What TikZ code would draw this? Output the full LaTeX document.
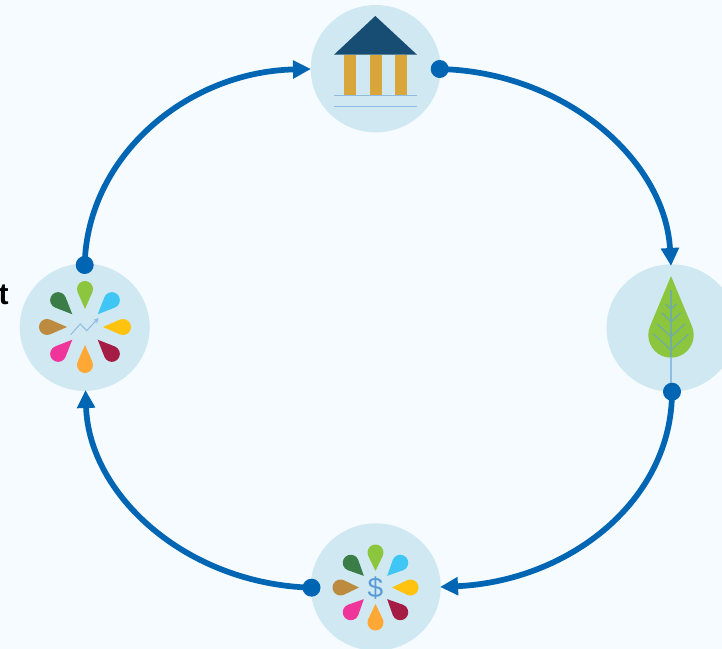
\documentclass[tikz,border=0pt]{standalone}
\usepackage{fontspec}
\setmainfont{Liberation Sans}
\usetikzlibrary{arrows.meta,shapes.geometric}
\definecolor{bgc}{HTML}{F5FBFF}
\definecolor{disc}{HTML}{D0E8F2}
\definecolor{link}{HTML}{0066B3}
\definecolor{roofc}{HTML}{174D73}
\definecolor{pillar}{HTML}{D9A63B}
\definecolor{thin}{HTML}{8FBCE4}
\definecolor{veinc}{HTML}{72AD9E}
\definecolor{dollar}{HTML}{5B9BD5}
\definecolor{pgreen}{HTML}{8CC63F}
\definecolor{pblue}{HTML}{3FC6F5}
\definecolor{pyellow}{HTML}{FFC20E}
\definecolor{pcrimson}{HTML}{A51C45}
\definecolor{porange}{HTML}{FFA836}
\definecolor{ppink}{HTML}{F0359A}
\definecolor{pbrown}{HTML}{BC8B3F}
\definecolor{pdark}{HTML}{3A7D47}
% drop: centre x, centre y, angle, tip distance, head distance, colour
\newcommand\dropshape[6]{%
  \begin{scope}[shift={(#1,#2)},rotate=-#3]
    \fill[#6] (#4,0) -- ({#5+8*cos(113.6)},{8*sin(113.6)})
      arc[start angle=113.6,end angle=-113.6,radius=8] -- cycle;
  \end{scope}}
\newcommand\flower[4]{%
  \dropshape{#1}{#2}{0}{#3}{#4}{pyellow}
  \dropshape{#1}{#2}{45}{#3}{#4}{pcrimson}
  \dropshape{#1}{#2}{90}{#3}{#4}{porange}
  \dropshape{#1}{#2}{135}{#3}{#4}{ppink}
  \dropshape{#1}{#2}{180}{#3}{#4}{pbrown}
  \dropshape{#1}{#2}{225}{#3}{#4}{pdark}
  \dropshape{#1}{#2}{270}{#3}{#4}{pgreen}
  \dropshape{#1}{#2}{315}{#3}{#4}{pblue}}
\tikzset{
  discnode/.style={ellipse,fill=disc,minimum width=97.5pt,minimum height=95.5pt,inner sep=0pt},
  dotnode/.style={circle,fill=link,minimum size=13.5pt,inner sep=0pt},
  linkline/.style={draw=link,line width=4.3pt,-{Triangle[length=13.5pt,width=13pt]}},
  thinline/.style={draw=thin,line width=0.75pt},
  veinline/.style={draw=veinc,line width=1pt}
}
\begin{document}
\begin{tikzpicture}[x=0.75pt,y=-0.75pt]
\useasboundingbox (0,0) rectangle (722,649);
\clip (0,0) rectangle (722,649);
\fill[bgc] (0,0) rectangle (722,649);
\node[discnode] (bank) at (375.7,68.7) {};
\node[discnode] (goals) at (84.7,327.2) {};
\node[discnode] (leaf) at (671.5,328) {};
\node[discnode] (money) at (375.7,587) {};
\node[anchor=base east,font=\bfseries\fontsize{22.5pt}{24pt}\selectfont,inner sep=0pt] (cut) at (9,305) {t};
% bank icon
\fill[roofc] (375.3,16) -- (417,54.7) -- (334,54.7) -- cycle;
\fill[pillar] (344,54.7) rectangle (356,96);
\fill[pillar] (369.5,54.7) rectangle (381.5,96);
\fill[pillar] (395,54.7) rectangle (407,96);
\draw[thinline] (334,96) -- (417,96);
\draw[thinline] (334,106.5) -- (417,106.5);
% goals icon
\flower{85}{327}{18}{38}
\draw[thinline,-{Stealth[length=4pt,width=4pt]}] (70.7,334.7) -- (80.3,324) -- (86.7,330.7) -- (98.6,318);
% leaf icon
\fill[pgreen] (671,276) -- ({671+22.7*cos(22)},{335-22.7*sin(22)})
  arc[start angle=-22,end angle=202,radius=22.7] -- cycle;
\draw[draw=thin,line width=1pt] (671,356) -- (671,392);
\draw[veinline] (671,290) -- (671,357);
\draw[veinline] (653.3,334) -- (671,350) -- (688.7,334);
\draw[veinline] (657.3,324) -- (671,336.7) -- (685,324);
\draw[veinline] (661.7,312.7) -- (671,321.7) -- (680.7,313);
\draw[veinline] (665.3,304) -- (671,309) -- (676.7,304);
% money icon
\flower{375.5}{587.5}{16.5}{35}
\node[text=dollar,font=\fontsize{21pt}{24pt}\selectfont,inner sep=0pt] (cash) at (375.5,588) {\$};
% connectors
\node[dotnode] (d1) at (439.7,69) {};
\node[dotnode] (d2) at (672,391.7) {};
\node[dotnode] (d3) at (311.5,587.7) {};
\node[dotnode] (d4) at (84.7,265) {};
\coordinate (t1) at (671,266);
\coordinate (t2) at (440,587);
\coordinate (t3) at (85.5,390);
\coordinate (t4) at (311,69);
\draw[linkline] (d1.center) .. controls (565,72) and (665,160) .. (t1);
\draw[linkline] (d2.center) .. controls (672,500) and (570,581) .. (t2);
\draw[linkline] (d3.center) .. controls (186,584) and (89,495) .. (t3);
\draw[linkline] (d4.center) .. controls (87,157) and (186,72) .. (t4);
\end{tikzpicture}
\end{document}
